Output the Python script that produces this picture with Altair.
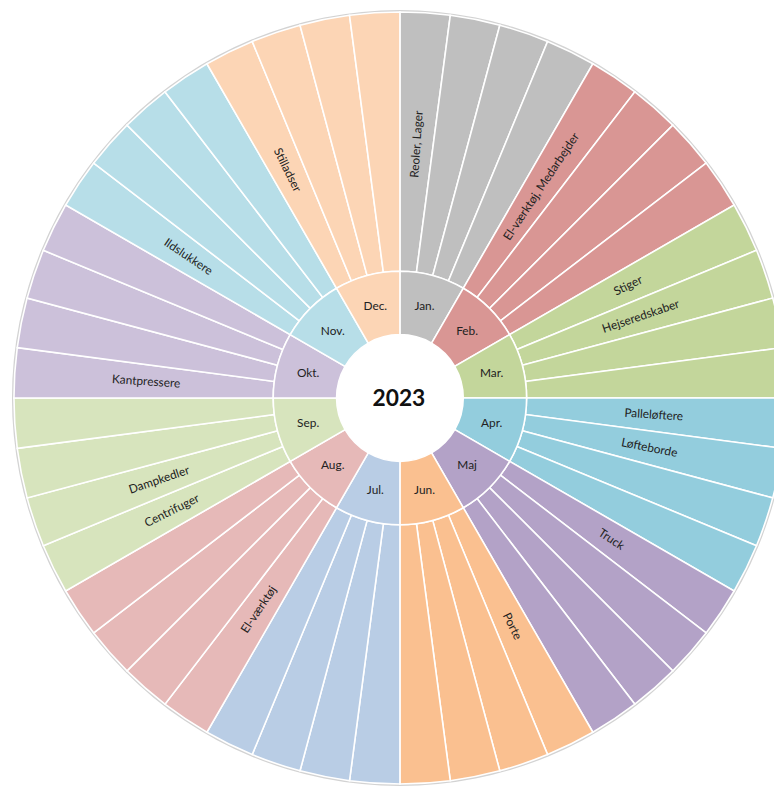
import math
import altair as alt
import pandas as pd

# ---- data -------------------------------------------------------------
months = ["Jan.", "Feb.", "Mar.", "Apr.", "Maj", "Jun.",
          "Jul.", "Aug.", "Sep.", "Okt.", "Nov.", "Dec."]
weeks_per_month = [4, 4, 4, 4, 4, 4, 4, 4, 4, 4, 4, 4]
month_colors = ["#bfbfbf", "#d99694", "#c3d69b", "#93cddd", "#b3a2c7", "#fac090",
                "#b9cde5", "#e6b9b8", "#d7e4bd", "#ccc1da", "#b7dee8", "#fcd5b5"]

topic_labels = ["Reoler, Lager", "El-værktøj, Medarbejder", "Stiger", "Hejseredskaber",
                "Palleløftere", "Løfteborde", "Truck", "Porte", "El-værktøj",
                "Centrifuger", "Dampkedler", "Kantpressere", "Ildslukkere", "Stilladser"]
topic_month = ["Jan.", "Feb.", "Mar.", "Mar.", "Apr.", "Apr.", "Maj", "Jun.", "Aug.",
               "Sep.", "Sep.", "Okt.", "Nov.", "Dec."]
topic_week = [1, 1, 1, 2, 1, 2, 1, 1, 1, 1, 2, 1, 1, 1]

year_label = ["2023"]

# ---- tables -----------------------------------------------------------
total = sum(weeks_per_month)
month_rows, week_rows = [], []
start = 0
for m, n in zip(months, weeks_per_month):
    month_rows.append({"month": m, "start": start, "end": start + n, "mid": start + n / 2})
    for w in range(n):
        week_rows.append({"month": m, "week": w + 1, "start": start + w, "end": start + w + 1})
    start += n
month_df = pd.DataFrame(month_rows)
week_df = pd.DataFrame(week_rows)

first = {r["month"]: r["start"] for r in month_rows}
lab_rows = []
for lab, m, w in zip(topic_labels, topic_month, topic_week):
    mid = first[m] + w - 0.5
    deg = mid / total * 360
    rot = deg - 90 if deg < 180 else deg - 270
    lab_rows.append({"label": lab, "mid": mid, "rot": rot % 360})
lab_df = pd.DataFrame(lab_rows)

# ---- geometry / style ---------------------------------------------------
CX, CY = 396, 390
R_HOLE, R_MONTH, R_OUT = 64, 128, 390
FONT = "Lato"
theta_scale = alt.Scale(domain=[0, total], range=[0, 2 * math.pi])
color_scale = alt.Scale(domain=months, range=month_colors)

rim = alt.Chart(pd.DataFrame({"a": [0]})).mark_arc(color="#d3d3d3").encode(
    theta=alt.value(0), theta2=alt.value(2 * math.pi),
    radius=alt.value(R_OUT + 2), radius2=alt.value(R_OUT - 1),
    x=alt.value(CX), y=alt.value(CY),
)

outer = alt.Chart(week_df).mark_arc(stroke="white", strokeWidth=1.6).encode(
    theta=alt.Theta("start:Q", scale=theta_scale),
    theta2="end:Q",
    radius=alt.value(R_OUT),
    radius2=alt.value(R_MONTH),
    x=alt.value(CX), y=alt.value(CY),
    color=alt.Color("month:N", scale=color_scale, legend=None),
)

inner = alt.Chart(month_df).mark_arc(stroke="white", strokeWidth=1.6).encode(
    theta=alt.Theta("start:Q", scale=theta_scale),
    theta2="end:Q",
    radius=alt.value(R_MONTH),
    radius2=alt.value(R_HOLE),
    x=alt.value(CX), y=alt.value(CY),
    color=alt.Color("month:N", scale=color_scale, legend=None),
)

month_text = alt.Chart(month_df).mark_text(
    font=FONT, fontSize=12, color="#222222", align="center", baseline="middle"
).encode(
    theta=alt.Theta("mid:Q", scale=theta_scale, stack=False),
    radius=alt.value(96),
    x=alt.value(CX), y=alt.value(CY),
    text="month:N",
)

topic_text = alt.Chart(lab_df).mark_text(
    font=FONT, fontSize=12, color="#222222", align="center", baseline="middle"
).encode(
    theta=alt.Theta("mid:Q", scale=theta_scale, stack=False),
    radius=alt.value(257),
    x=alt.value(CX), y=alt.value(CY),
    angle=alt.Angle("rot:Q", scale=None),
    text="label:N",
)

center = alt.Chart(pd.DataFrame({"t": year_label})).mark_text(
    font=FONT, fontSize=23, fontWeight="bold", color="#111111",
    align="center", baseline="middle"
).encode(x=alt.value(CX - 1), y=alt.value(CY + 1), text="t:N")

chart = alt.layer(rim, outer, inner, month_text, topic_text, center).properties(
    width=774, height=780, padding=0,
    autosize=alt.AutoSizeParams(type="none"),
).configure_view(stroke=None)

chart.save("out.html", embed_options={"renderer": "svg", "actions": False})
